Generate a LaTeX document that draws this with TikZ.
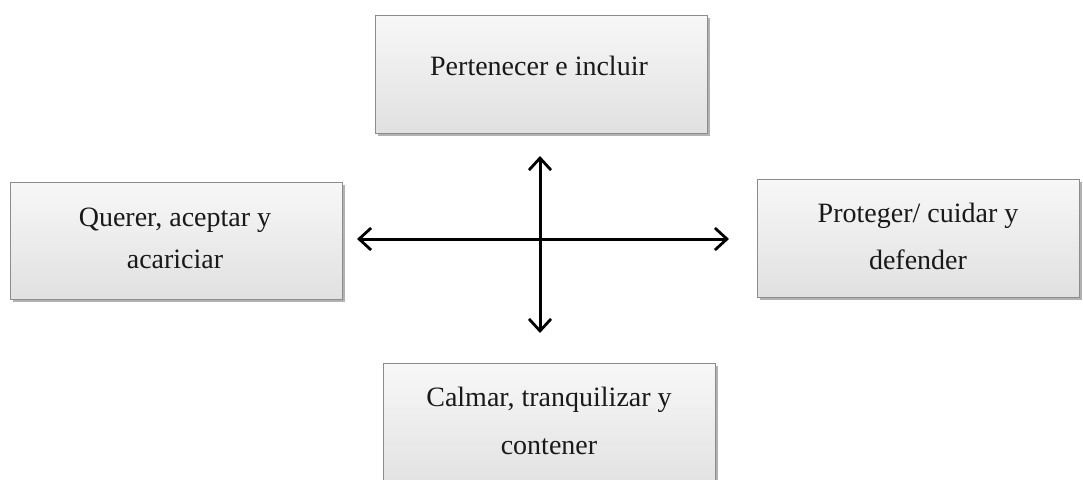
\documentclass[tikz,border=0pt]{standalone}
\usepackage{fontspec}
\setmainfont{Liberation Serif}
\usetikzlibrary{arrows.meta,shadows}
\begin{document}
\begin{tikzpicture}[x=1pt,y=-1pt,
  box/.style={draw=gray!90, line width=0.9pt, top color=gray!6, bottom color=gray!24,
    drop shadow={shadow xshift=2.5pt, shadow yshift=-3pt, opacity=0.3, fill=black},
    inner sep=0pt},
  lbl/.style={align=center, font=\fontsize{28}{40}\selectfont, inner sep=0pt, text=black!90},
  axis/.style={line width=3pt, {Straight Barb[length=12pt,width=22pt,line width=2.8pt]}-{Straight Barb[length=12pt,width=22pt,line width=2.8pt]}}
]
\useasboundingbox (0,0) rectangle (1083,479);
\begin{scope}
\clip (0,0) rectangle (1083,479);
\node[box, minimum width=332pt, minimum height=118pt, anchor=north west] (top) at (375,15) {};
\node[box, minimum width=332pt, minimum height=117pt, anchor=north west] (left) at (10,182) {};
\node[box, minimum width=322pt, minimum height=118pt, anchor=north west] (right) at (757,179) {};
\node[box, minimum width=332pt, minimum height=130pt, anchor=north west] (bottom) at (383,363) {};
\end{scope}
\node[lbl] (toptext) at (539,66) {Pertenecer e incluir};
\node[lbl, font=\fontsize{28}{42}\selectfont] (lefttext) at (175,238) {Querer, aceptar y\\acariciar};
\node[lbl, font=\fontsize{28}{47}\selectfont] (righttext) at (918,236) {Proteger/ cuidar y\\defender};
\node[lbl, font=\fontsize{28}{48}\selectfont] (bottomtext) at (549,421) {Calmar, tranquilizar y\\contener};
\coordinate (L) at (357,239);
\coordinate (R) at (729,239);
\coordinate (T) at (540,156);
\coordinate (B) at (540,333);
\draw[axis] (L) -- (R);
\draw[axis] (T) -- (B);
\end{tikzpicture}
\end{document}
